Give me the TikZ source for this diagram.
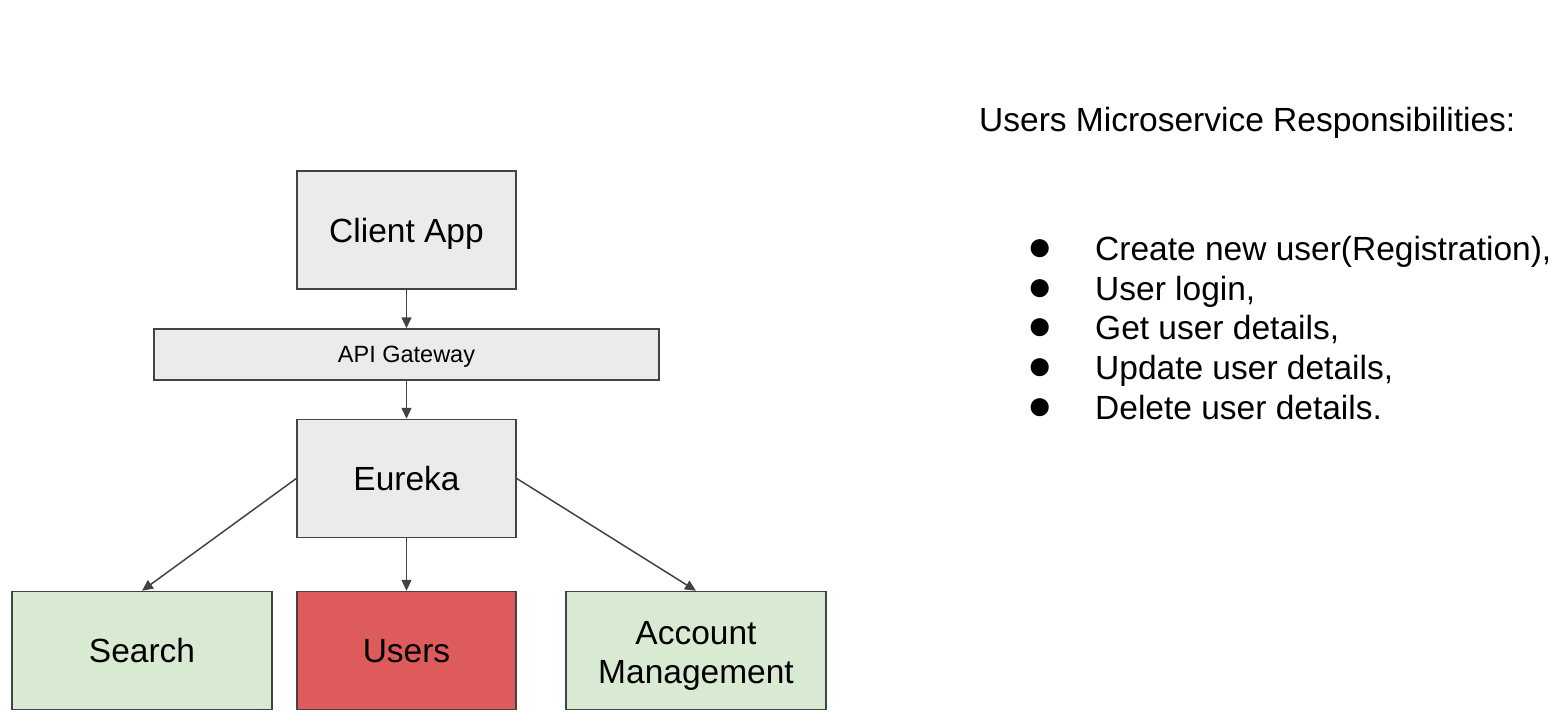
\documentclass[tikz,border=0pt]{standalone}
\usepackage{fontspec}
\setmainfont{Liberation Sans}
\usetikzlibrary{arrows.meta}
\definecolor{boxgray}{HTML}{EBEBEB}
\definecolor{boxgreen}{HTML}{D9EAD3}
\definecolor{boxred}{HTML}{DD5B5B}
\definecolor{edge}{HTML}{434343}
\begin{document}
\begin{tikzpicture}[x=1pt,y=-1pt,
  box/.style={draw=edge, line width=1.5pt, inner sep=0pt,
    font=\fontsize{33.5}{39}\selectfont, text height=24pt, text depth=0pt},
  bigbox/.style={box, minimum width=219pt, minimum height=118pt},
  widebox/.style={box, minimum width=260pt, minimum height=118pt},
  boxtext/.style={inner sep=0pt, font=\fontsize{33.5}{39}\selectfont, text height=24pt, text depth=0pt},
  conn/.style={draw=edge, line width=1.5pt, -{Triangle[length=11pt,width=10pt]}},
  rtext/.style={anchor=base west, inner sep=0pt, font=\fontsize{33.5}{39}\selectfont},
  bul/.style={inner sep=0pt, font=\fontsize{42}{48}\selectfont}
]
\useasboundingbox (0,0) rectangle (1557,721);
% left diagram
\node[bigbox, fill=boxgray] (client) at (406.5,230) {Client App};
\node[box, fill=boxgray, minimum width=505pt, minimum height=51pt,
  font=\fontsize{23.5}{28}\selectfont, text height=16.8pt] (gw) at (406.5,354.5) {API Gateway};
\node[bigbox, fill=boxgray] (eureka) at (406.5,478.5) {Eureka};
\node[widebox, fill=boxgreen] (search) at (142,650.5) {Search};
\node[bigbox, fill=boxred] (users) at (406.5,650.5) {Users};
\node[widebox, fill=boxgreen] (acct) at (696,650.5) {};
\node[boxtext] (acct1) at (696,632) {Account};
\node[boxtext] (acct2) at (696,671) {Management};
\draw[conn] (client) -- (gw);
\draw[conn] (gw) -- (eureka);
\draw[conn] (eureka) -- (users);
\draw[conn] (eureka.west) -- (search.north);
\draw[conn] (eureka.east) -- (acct.north);
% right text
\node[rtext] (title) at (979,131) {Users Microservice Responsibilities:};
\node[bul] (b1) at (1040,250) {●};
\node[bul] (b2) at (1040,290) {●};
\node[bul] (b3) at (1040,329) {●};
\node[bul] (b4) at (1040,369) {●};
\node[bul] (b5) at (1040,409) {●};
\node[rtext] (l1) at (1095,260) {Create new user(Registration),};
\node[rtext] (l2) at (1095,300) {User login,};
\node[rtext] (l3) at (1095,339) {Get user details,};
\node[rtext] (l4) at (1095,379) {Update user details,};
\node[rtext] (l5) at (1095,419) {Delete user details.};
\end{tikzpicture}
\end{document}
